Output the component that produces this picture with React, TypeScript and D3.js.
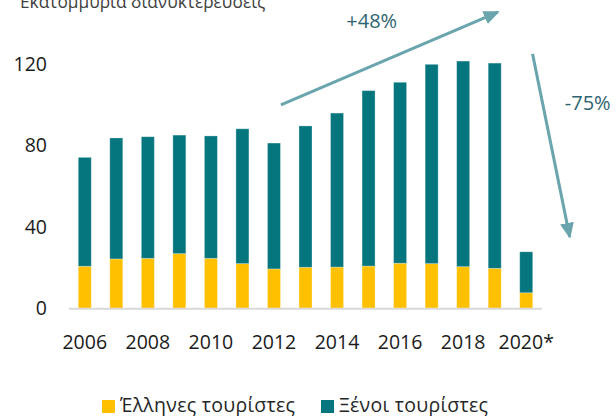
import * as d3 from "d3";
import { useEffect, useRef } from "react";

const years = ["2006", "2007", "2008", "2009", "2010", "2011", "2012", "2013", "2014", "2015", "2016", "2017", "2018", "2019", "2020*"];
const greek = [20.6, 24.2, 24.5, 26.8, 24.5, 21.9, 19.3, 20.1, 20.2, 20.7, 22.1, 21.9, 20.4, 19.6, 7.6];
const totals = [74.0, 83.5, 84.1, 84.9, 84.5, 88.0, 81.0, 89.4, 95.7, 106.7, 110.8, 119.6, 121.2, 120.2, 27.7];
const foreign = totals.map((t, i) => +(t - greek[i]).toFixed(1));
const yTicks = [0, 40, 80, 120];
const seriesNames = ["Έλληνες τουρίστες", "Ξένοι τουρίστες"];
const colors = ["#ffc000", "#06767e"];

// annotations in data units (year index, value)
const arrows = [
  { from: [6.22, 99.7], to: [13.1, 145.2], label: "+48%", at: [9.1, 137.5] },
  { from: [14.2, 124.7], to: [15.38, 35], label: "-75%", at: [15.95, 97] },
];

export default function App() {
  const ref = useRef<SVGSVGElement | null>(null);

  useEffect(() => {
    if (!ref.current) return;
    const svg = d3.select(ref.current);
    svg.selectAll("*").remove();

    const x = d3.scaleBand().domain(years).range([69, 542]).paddingInner(0.588).paddingOuter(0.294);
    const y = d3.scaleLinear().domain([0, 120]).range([308.3, 63.5]);
    const xi = d3.scaleLinear().domain([0, 14]).range([x(years[0])! + x.bandwidth() / 2, x(years[14])! + x.bandwidth() / 2]);

    const rows = years.map((yr, i) => ({ year: yr, g: greek[i], f: foreign[i] }));
    const series = d3.stack<any>().keys(["g", "f"])(rows);

    const font = "'Open Sans', 'Noto Sans', sans-serif";

    // y title (cut off at top, as in the source)
    svg.append("text")
      .attr("x", 20).attr("y", 8)
      .attr("font-family", font).attr("font-size", 17.3)
      .attr("fill", "#404040")
      .text("Εκατομμύρια διανυκτερεύσεις");

    // bars
    svg.append("g")
      .selectAll("g")
      .data(series)
      .join("g")
      .attr("fill", (_, i) => colors[i])
      .selectAll("rect")
      .data((d) => d)
      .join("rect")
      .attr("x", (d) => x(d.data.year)!)
      .attr("y", (d) => y(d[1]))
      .attr("width", x.bandwidth())
      .attr("height", (d) => y(d[0]) - y(d[1]))
      .attr("stroke", "#ffffff")
      .attr("stroke-opacity", 0.35)
      .attr("stroke-width", 0.8);

    // baseline
    svg.append("line")
      .attr("x1", 69).attr("x2", 542)
      .attr("y1", y(0) + 0.5).attr("y2", y(0) + 0.5)
      .attr("stroke", "#d9d9d9").attr("stroke-width", 2);

    // y ticks
    svg.append("g")
      .selectAll("text")
      .data(yTicks)
      .join("text")
      .attr("x", 47)
      .attr("y", (d) => y(d))
      .attr("dy", "0.36em")
      .attr("text-anchor", "end")
      .attr("font-family", font).attr("font-size", 19.5)
      .attr("fill", "#1a1a1a")
      .text((d) => d);

    // x ticks
    svg.append("g")
      .selectAll("text")
      .data(years.filter((_, i) => i % 2 === 0))
      .join("text")
      .attr("x", (d) => x(d)! + x.bandwidth() / 2)
      .attr("y", 342)
      .attr("dy", "0.36em")
      .attr("text-anchor", "middle")
      .attr("font-family", font).attr("font-size", 19.5)
      .attr("fill", "#1a1a1a")
      .text((d) => d);

    // arrows
    svg.append("defs").append("marker")
      .attr("id", "head")
      .attr("markerUnits", "userSpaceOnUse")
      .attr("viewBox", "0 0 16 14")
      .attr("refX", 14).attr("refY", 7)
      .attr("markerWidth", 16).attr("markerHeight", 14)
      .attr("orient", "auto")
      .append("path")
      .attr("d", "M0,0 L16,7 L0,14 Z")
      .attr("fill", "#6aa5ae");

    arrows.forEach((a) => {
      svg.append("line")
        .attr("x1", xi(a.from[0])).attr("y1", y(a.from[1]))
        .attr("x2", xi(a.to[0])).attr("y2", y(a.to[1]))
        .attr("stroke", "#6aa5ae").attr("stroke-width", 3)
        .attr("marker-end", "url(#head)");
      svg.append("text")
        .attr("x", xi(a.at[0])).attr("y", y(a.at[1]))
        .attr("text-anchor", "middle")
        .attr("font-family", font).attr("font-size", 20)
        .attr("fill", "#2e6470")
        .text(a.label);
    });

    // legend
    const lx = [102, 321];
    const lw = [175, 149];
    seriesNames.forEach((name, i) => {
      svg.append("rect")
        .attr("x", lx[i]).attr("y", 400)
        .attr("width", 13).attr("height", 13)
        .attr("fill", colors[i]);
      svg.append("text")
        .attr("x", lx[i] + 18).attr("y", 412)
        .attr("font-family", font).attr("font-size", 19.5)
        .attr("textLength", lw[i])
        .attr("lengthAdjust", "spacing")
        .attr("fill", "#262626")
        .text(name);
    });
  }, []);

  return (
    <svg
      ref={ref}
      width={616}
      height={416}
      style={{ position: "absolute", left: 0, top: 0, background: "#fff" }}
    ></svg>
  );
}
